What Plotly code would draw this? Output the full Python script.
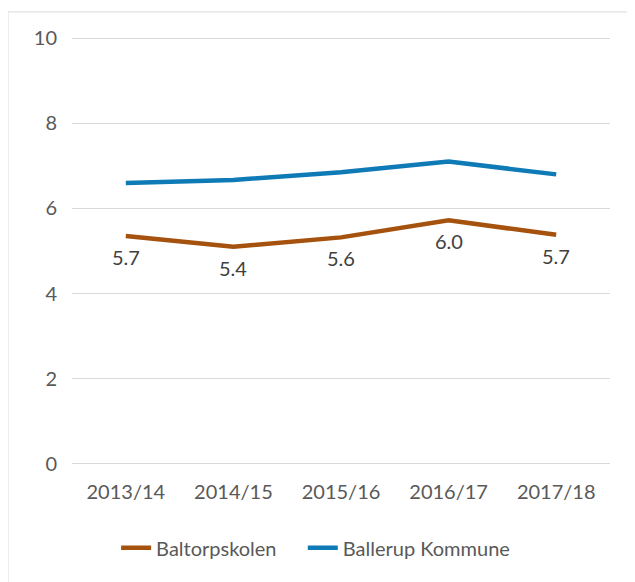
import plotly.graph_objects as go

years = ["2013/14", "2014/15", "2015/16", "2016/17", "2017/18"]
baltorp_values = [5.35, 5.1, 5.32, 5.72, 5.38]
baltorp_labels = ["5.7", "5.4", "5.6", "6.0", "5.7"]
ballerup_values = [6.6, 6.67, 6.85, 7.1, 6.8]

brown = "#A5520F"
blue = "#0E7AB6"
text_grey = "#595959"
font_family = "Lato, 'Open Sans', sans-serif"


def main():
    fig = go.Figure()
    fig.add_trace(go.Scatter(
        x=years, y=baltorp_values, name="Baltorpskolen",
        mode="lines", line=dict(color=brown, width=4.5), legend="legend",
    ))
    fig.add_trace(go.Scatter(
        x=years, y=ballerup_values, name="Ballerup Kommune",
        mode="lines", line=dict(color=blue, width=4.5), legend="legend2",
    ))

    # data labels sit under the brown line
    for yr, val, lbl in zip(years, baltorp_values, baltorp_labels):
        fig.add_annotation(x=yr, y=val, text=lbl, showarrow=False, yshift=-21,
                           font=dict(size=20, color="#404040"))

    # thin frame around the chart like the excel export
    frame = dict(type="line", xref="paper", yref="paper", line=dict(color="#D9D9D9", width=1))
    fig.add_shape(frame, x0=-0.119, x1=1.1, y0=1.056, y1=1.056)
    fig.add_shape(frame, x0=-0.119, x1=-0.119, y0=1.056, y1=-0.4)

    # one legend per series so the spacing can follow the original
    leg = dict(orientation="h", xanchor="left", y=-0.19, yanchor="middle",
               font=dict(size=20, color=text_grey))

    fig.update_layout(
        width=635, height=582,
        margin=dict(l=64, r=33, t=28, b=124),
        paper_bgcolor="white", plot_bgcolor="white",
        font=dict(family=font_family, size=20, color=text_grey),
        showlegend=True,
        legend=dict(leg, x=0.082),
        legend2=dict(leg, x=0.429),
        xaxis=dict(showgrid=False, showline=False, ticks="", range=[-0.5, 4.5],
                   ticklabelstandoff=12, tickfont=dict(size=20)),
        yaxis=dict(range=[-0.05, 10.05], dtick=2, showgrid=True, gridcolor="#D9D9D9", gridwidth=1,
                   zeroline=False, showline=False, ticks="", ticklabelstandoff=14,
                   tickfont=dict(size=20)),
    )
    fig.write_html("out.html")


if __name__ == "__main__":
    main()
